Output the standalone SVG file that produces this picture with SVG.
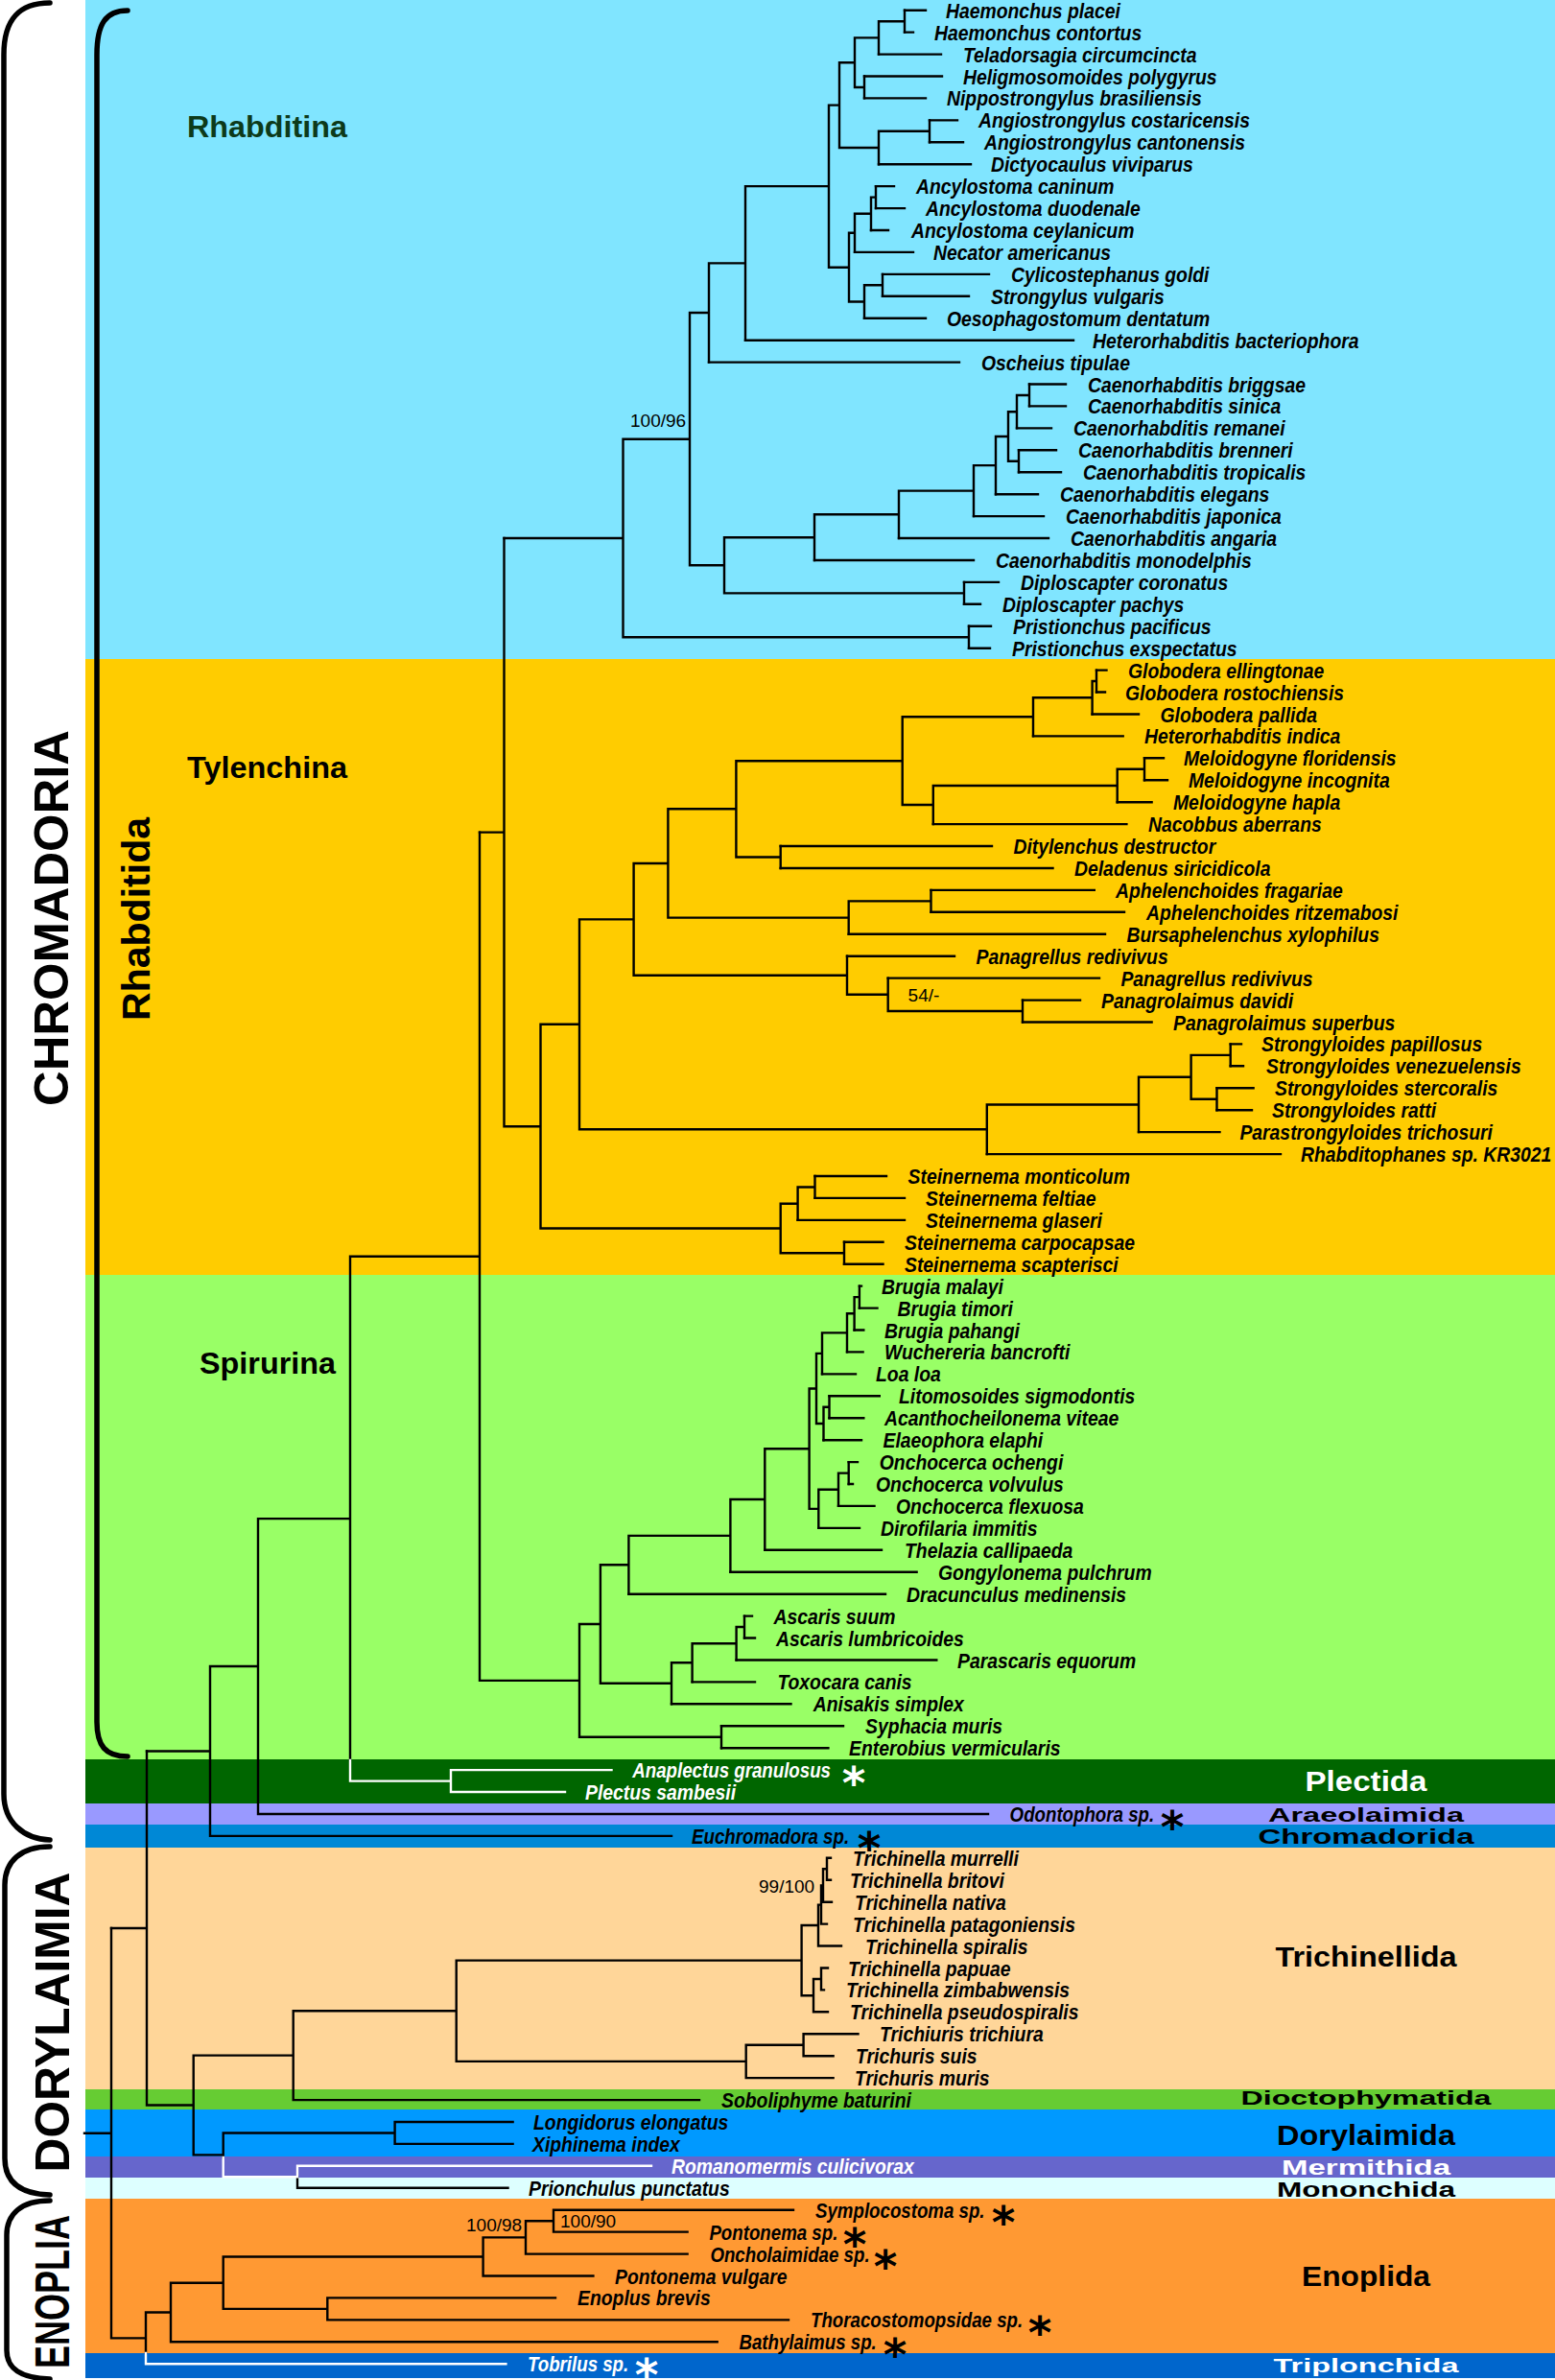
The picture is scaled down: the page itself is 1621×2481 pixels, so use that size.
<svg xmlns="http://www.w3.org/2000/svg" width="1621" height="2481" viewBox="0 0 1621 2481">
<style>
.sp{font-family:"Liberation Sans",Arial,sans-serif;font-size:22px;font-weight:bold;font-style:italic;fill:#000}
.w{fill:#fff}
.ast{font-family:"DejaVu Sans",sans-serif;font-size:47px;font-weight:bold;fill:#000;text-anchor:middle}
.br{fill:none;stroke:#000;stroke-width:2.4;stroke-linecap:square}
.brw{fill:none;stroke:#fff;stroke-width:2.4;stroke-linecap:square}
.sup{font-family:"Liberation Sans",Arial,sans-serif;font-size:19px;fill:#000}
.ord{font-family:"Liberation Sans",Arial,sans-serif;font-weight:bold;text-anchor:middle;fill:#000}
.sub{font-family:"Liberation Sans",Arial,sans-serif;font-weight:bold;font-size:32px;fill:#000}
.cls{font-family:"Liberation Sans",Arial,sans-serif;font-weight:bold;font-size:50px;fill:#000;text-anchor:middle}
.brace{fill:none;stroke:#000;stroke-width:5.5;stroke-linecap:round}
</style>
<rect x="0" y="0" width="1621" height="2481" fill="#fff"/>
<g id="bands">
<rect x="89" y="0" width="1532" height="687" fill="#80e5ff"/>
<rect x="89" y="687" width="1532" height="642" fill="#ffcc00"/>
<rect x="89" y="1329" width="1532" height="505" fill="#99ff66"/>
<rect x="89" y="1834" width="1532" height="46" fill="#006600"/>
<rect x="89" y="1880" width="1532" height="22" fill="#9999ff"/>
<rect x="89" y="1902" width="1532" height="24" fill="#0088d6"/>
<rect x="89" y="1926" width="1532" height="252" fill="#ffd699"/>
<rect x="89" y="2178" width="1532" height="21" fill="#66cc33"/>
<rect x="89" y="2199" width="1532" height="49" fill="#0099ff"/>
<rect x="89" y="2248" width="1532" height="22" fill="#6666cc"/>
<rect x="89" y="2270" width="1532" height="22" fill="#ddffff"/>
<rect x="89" y="2292" width="1532" height="161" fill="#ff9933"/>
<rect x="89" y="2453" width="1532" height="26" fill="#0066cc"/>
</g>
<g id="brackets">
<path class="brace" d="M52,3 C20,3 4,20 4,57 L4,1870 C4,1900 25,1917 52,1918"/>
<path class="brace" d="M52,1925 C22,1925 5,1940 5,1965 L5,2250 C5,2275 22,2287 52,2288"/>
<path class="brace" d="M52,2294 C22,2294 7,2308 7,2330 L7,2450 C7,2470 22,2479 52,2480"/>
<path class="brace" stroke-width="5" d="M133,11 C110,11 101,25 101,57 L101,1795 C101,1820 110,1831 133,1831"/>
<text class="cls" transform="translate(71,957) rotate(-90)" textLength="392" lengthAdjust="spacingAndGlyphs">CHROMADORIA</text>
<text class="cls" transform="translate(72,2108) rotate(-90)" textLength="313" lengthAdjust="spacingAndGlyphs">DORYLAIMIA</text>
<text class="cls" transform="translate(72,2389) rotate(-90)" textLength="160" lengthAdjust="spacingAndGlyphs">ENOPLIA</text>
<text class="cls" style="font-size:41px" transform="translate(156,958) rotate(-90)" textLength="212" lengthAdjust="spacingAndGlyphs">Rhabditida</text>
</g>
<g id="suborders">
<text class="sub" x="195" y="143" style="fill:#0d3a1a" textLength="167" lengthAdjust="spacingAndGlyphs">Rhabditina</text>
<text class="sub" x="195" y="811" textLength="167" lengthAdjust="spacingAndGlyphs">Tylenchina</text>
<text class="sub" x="208" y="1432" textLength="142" lengthAdjust="spacingAndGlyphs">Spirurina</text>
</g>
<g id="orders">
<text class="ord" x="1424" y="1867" font-size="30" textLength="127" lengthAdjust="spacingAndGlyphs" style="fill:#fff">Plectida</text>
<text class="ord" x="1424" y="1899" font-size="21" textLength="204" lengthAdjust="spacingAndGlyphs">Araeolaimida</text>
<text class="ord" x="1424" y="1921.5" font-size="22" textLength="225" lengthAdjust="spacingAndGlyphs">Chromadorida</text>
<text class="ord" x="1424" y="2050" font-size="29" textLength="189" lengthAdjust="spacingAndGlyphs">Trichinellida</text>
<text class="ord" x="1424" y="2194" font-size="20" textLength="261" lengthAdjust="spacingAndGlyphs">Dioctophymatida</text>
<text class="ord" x="1424" y="2236" font-size="29" textLength="186" lengthAdjust="spacingAndGlyphs">Dorylaimida</text>
<text class="ord" x="1424" y="2267" font-size="22" textLength="176" lengthAdjust="spacingAndGlyphs" style="fill:#fff">Mermithida</text>
<text class="ord" x="1424" y="2290" font-size="22" textLength="186" lengthAdjust="spacingAndGlyphs">Mononchida</text>
<text class="ord" x="1424" y="2383" font-size="30" textLength="134" lengthAdjust="spacingAndGlyphs">Enoplida</text>
<text class="ord" x="1424" y="2473" font-size="21" textLength="193" lengthAdjust="spacingAndGlyphs" style="fill:#fff">Triplonchida</text>
</g>
<g id="branches">
<path class="br" d="M943,10.7H965M943,33.6H952M916,56.6H981M901,79.5H982M901,102.4H965M969,125.4H998M969,148.3H1004M916,171.2H1012M913,194.1H932M913,217.1H943M908,240H926M891,262.9H952M920,285.9H1031M920,308.8H1010M901,331.7H965M777,354.7H1119M739,377.6H1000M1073,400.5H1111M1073,423.4H1111M1060,446.4H1096M1062,469.3H1101M1062,492.2H1106M1038,515.2H1082M1015,538.1H1088M937,561H1093M849,584H1015M1005,606.9H1041M1005,629.8H1022M1010,652.7H1033M1010,675.7H1032"/>
<path class="br" d="M943,10.7V33.6M916,22.2H943M916,22.2V56.6M891,39.4H916M901,79.5V102.4M891,91H901M891,39.4V91M875,65.2H891M969,125.4V148.3M916,136.8H969M916,136.8V171.2M875,154H916M875,65.2V154M864,109.6H875M913,194.1V217.1M908,205.6H913M908,205.6V240M891,222.8H908M891,222.8V262.9M885,242.8H891M920,285.9V308.8M901,297.3H920M901,297.3V331.7M885,314.5H901M885,242.8V314.5M864,278.7H885M864,109.6V278.7M777,194.1H864M777,194.1V354.7M739,274.4H777M739,274.4V377.6M719,326H739M1073,400.5V423.4M1060,412H1073M1060,412V446.4M1051,429.2H1060M1062,469.3V492.2M1051,480.8H1062M1051,429.2V480.8M1038,455H1051M1038,455V515.2M1015,485.1H1038M1015,485.1V538.1M937,511.6H1015M937,511.6V561M849,536.3H937M849,536.3V584M755,560.2H849M1005,606.9V629.8M755,618.4H1005M755,560.2V618.4M719,589.3H755M719,326V589.3M649.5,457.7H719M1010,652.7V675.7M649.5,664.2H1010M649.5,457.7V664.2M525.5,561H649.5"/>
<path class="br" d="M1143,698.6H1153.5M1143,721.5H1152M1138.6,744.5H1187M1077,767.4H1170.7M1193,790.3H1213M1193,813.3H1217M1164.7,836.2H1200.6M972.8,859.1H1174.4M813.7,882H1034M813.7,905H1097.5M970.5,927.9H1140.8M970.5,950.8H1172M884.7,973.8H1152M883,996.7H995M925.7,1019.6H1146M1066,1042.6H1126M1066,1065.5H1200.6M1282.7,1088.4H1294M1282.7,1111.3H1296M1268.5,1134.3H1306.6M1268.5,1157.2H1305M1187,1180.1H1271.5M1028.8,1203.1H1335M849.5,1226H924M849.5,1248.9H943M831.6,1271.9H943M880,1294.8H920.5M880,1317.7H920.5"/>
<path class="br" d="M1143,698.6V721.5M1138.6,710H1143M1138.6,710V744.5M1077,727.3H1138.6M1077,727.3V767.4M940.7,747.3H1077M1193,790.3V813.3M1164.7,801.8H1193M1164.7,801.8V836.2M972.8,819H1164.7M972.8,819V859.1M940.7,839H972.8M940.7,747.3V839M767.4,793.2H940.7M813.7,882V905M767.4,893.5H813.7M767.4,793.2V893.5M696.4,843.3H767.4M970.5,927.9V950.8M884.7,939.4H970.5M884.7,939.4V973.8M696.4,956.6H884.7M696.4,843.3V956.6M660.6,900H696.4M1066,1042.6V1065.5M925.7,1054H1066M925.7,1019.6V1054M883,1036.8H925.7M883,996.7V1036.8M660.6,1016.7H883M660.6,900V1016.7M604,958.4H660.6M1282.7,1088.4V1111.3M1241.6,1099.9H1282.7M1268.5,1134.3V1157.2M1241.6,1145.8H1268.5M1241.6,1099.9V1145.8M1187,1122.8H1241.6M1187,1122.8V1180.1M1028.8,1151.5H1187M1028.8,1151.5V1203.1M604,1177.3H1028.8M604,958.4V1177.3M563.5,1067.8H604M849.5,1226V1248.9M831.6,1237.5H849.5M831.6,1237.5V1271.9M813.7,1254.7H831.6M880,1294.8V1317.7M813.7,1306.3H880M813.7,1254.7V1306.3M563.5,1280.5H813.7M563.5,1067.8V1280.5M525.5,1174.2H563.5M525.5,561V1174.2M500,867.6H525.5"/>
<path class="br" d="M895.9,1340.6H898M895.9,1363.6H914.5M890.6,1386.5H900.3M883,1409.4H899.6M857,1432.4H892M864.5,1455.3H916.8M864.5,1478.2H900.3M858.5,1501.2H898M884.7,1524.1H894M884.7,1547H889M874,1569.9H911.5M853.3,1592.9H896M797.3,1615.8H919M761.4,1638.7H955.6M655.4,1661.7H923M776,1684.6H784M776,1707.5H787M767.6,1730.5H976.3M721.6,1753.4H787M700,1776.3H824.5M752,1799.2H879M752,1822.2H863.4"/>
<path class="br" d="M895.9,1340.6V1363.6M890.6,1352.1H895.9M890.6,1352.1V1386.5M883,1369.3H890.6M883,1369.3V1409.4M857,1389.4H883M857,1389.4V1432.4M851,1410.9H857M864.5,1455.3V1478.2M858.5,1466.8H864.5M858.5,1466.8V1501.2M851,1484H858.5M851,1410.9V1484M843.6,1447.5H851M884.7,1524.1V1547M874,1535.6H884.7M874,1535.6V1569.9M853.3,1552.8H874M853.3,1552.8V1592.9M843.6,1572.9H853.3M843.6,1447.5V1572.9M797.3,1510.2H843.6M797.3,1510.2V1615.8M761.4,1563H797.3M761.4,1563V1638.7M655.4,1600.9H761.4M655.4,1600.9V1661.7M625.9,1631.3H655.4M776,1684.6V1707.5M767.6,1696H776M767.6,1696V1730.5M721.6,1713.3H767.6M721.6,1713.3V1753.4M700,1733.3H721.6M700,1733.3V1776.3M625.9,1754.8H700M625.9,1631.3V1754.8M604,1693H625.9M752,1799.2V1822.2M604,1810.7H752M604,1693V1810.7M500,1751.9H604M500,867.6V1751.9M365,1309.7H500M365,1309.7V1835M269,1583.1H365M269,1583.1V1891M219,1737H269M269,1891H1030M219,1737V1913.9M153,1825.5H219M219,1913.9H700"/>
<path class="brw" d="M365,1835V1856.6H470M470,1845.1V1868M470,1845.1H637.5M470,1868H589"/>
<path class="br" d="M153,1825.5V2194.5M116,2010H153M201.7,2142.6V2246.4M153,2194.5H201.7M305.7,2096.2V2189.1M201.7,2142.6H305.7M305.7,2189.1H729M475.7,2043.6V2148.9M305.7,2096.2H475.7M835.6,2007V2080.2M475.7,2043.6H835.6M853,1985.6V2028.5M835.6,2007H853M853,2028.5H877M856,1965.5V2005.6M853,1985.6H856M856,2005.6H862M858,1948.3V1982.7M856,1965.5H858M858,1982.7H867M862,1936.8V1959.8M858,1948.3H862M862,1936.8H866M862,1959.8H866M848,2063V2097.3M835.6,2080.2H848M848,2097.3H863M856,2051.5V2074.4M848,2063H856M856,2051.5H863M856,2074.4H859M777.7,2131.7V2166.1M475.7,2148.9H777.7M837.6,2120.3V2143.2M777.7,2131.7H837.6M837.6,2120.3H894.5M837.6,2143.2H868.6M777.7,2166.1H868.6M232.7,2223.5V2249M201.7,2246.4H232.7M411.6,2212V2234.9M232.7,2223.5H411.6M411.6,2212H534.6M411.6,2234.9H534.6M310,2269.3V2280.8H529.5"/>
<path class="brw" d="M232.7,2249V2269.3H310M310,2257.8V2269.3M310,2257.8H679"/>
<path class="br" d="M116,2010V2437.4M88,2223.7H116M116,2437.4H152M152,2410.5V2453M178,2379.7V2441.3M152,2410.5H178M178,2441.3H747.7M232.7,2352.5V2406.9M178,2379.7H232.7M341.3,2395.4V2418.4M232.7,2406.9H341.3M341.3,2395.4H579M341.3,2418.4H822M503.6,2332.4V2372.5M232.7,2352.5H503.6M503.6,2372.5H618.4M548,2315.2V2349.6M503.6,2332.4H548M548,2349.6H716.6M577,2303.7V2326.6M548,2315.2H577M577,2303.7H827M577,2326.6H716.6"/>
<path class="brw" d="M152,2453V2464.2H527.4"/>
</g>
<g id="support">
<text class="sup" x="657" y="445">100/96</text>
<text class="sup" x="946.6" y="1044">54/-</text>
<text class="sup" x="791" y="1973">99/100</text>
<text class="sup" x="486" y="2326">100/98</text>
<text class="sup" x="584" y="2322">100/90</text>
</g>
<g id="leaves">
<g id="leaf-0"><text class="sp" transform="translate(986,18.7) scale(0.88,1)">Haemonchus placei</text></g>
<g id="leaf-1"><text class="sp" transform="translate(974,41.6) scale(0.88,1)">Haemonchus contortus</text></g>
<g id="leaf-2"><text class="sp" transform="translate(1004,64.6) scale(0.88,1)">Teladorsagia circumcincta</text></g>
<g id="leaf-3"><text class="sp" transform="translate(1004,87.5) scale(0.88,1)">Heligmosomoides polygyrus</text></g>
<g id="leaf-4"><text class="sp" transform="translate(987,110.4) scale(0.88,1)">Nippostrongylus brasiliensis</text></g>
<g id="leaf-5"><text class="sp" transform="translate(1020,133.4) scale(0.88,1)">Angiostrongylus costaricensis</text></g>
<g id="leaf-6"><text class="sp" transform="translate(1026,156.3) scale(0.88,1)">Angiostrongylus cantonensis</text></g>
<g id="leaf-7"><text class="sp" transform="translate(1033,179.2) scale(0.88,1)">Dictyocaulus viviparus</text></g>
<g id="leaf-8"><text class="sp" transform="translate(955,202.1) scale(0.88,1)">Ancylostoma caninum</text></g>
<g id="leaf-9"><text class="sp" transform="translate(965,225.1) scale(0.88,1)">Ancylostoma duodenale</text></g>
<g id="leaf-10"><text class="sp" transform="translate(950,248) scale(0.88,1)">Ancylostoma ceylanicum</text></g>
<g id="leaf-11"><text class="sp" transform="translate(973,270.9) scale(0.88,1)">Necator americanus</text></g>
<g id="leaf-12"><text class="sp" transform="translate(1054,293.9) scale(0.88,1)">Cylicostephanus goldi</text></g>
<g id="leaf-13"><text class="sp" transform="translate(1033,316.8) scale(0.88,1)">Strongylus vulgaris</text></g>
<g id="leaf-14"><text class="sp" transform="translate(987,339.7) scale(0.88,1)">Oesophagostomum dentatum</text></g>
<g id="leaf-15"><text class="sp" transform="translate(1139,362.7) scale(0.88,1)">Heterorhabditis bacteriophora</text></g>
<g id="leaf-16"><text class="sp" transform="translate(1023,385.6) scale(0.88,1)">Oscheius tipulae</text></g>
<g id="leaf-17"><text class="sp" transform="translate(1134,408.5) scale(0.88,1)">Caenorhabditis briggsae</text></g>
<g id="leaf-18"><text class="sp" transform="translate(1134,431.4) scale(0.88,1)">Caenorhabditis sinica</text></g>
<g id="leaf-19"><text class="sp" transform="translate(1119,454.4) scale(0.88,1)">Caenorhabditis remanei</text></g>
<g id="leaf-20"><text class="sp" transform="translate(1124,477.3) scale(0.88,1)">Caenorhabditis brenneri</text></g>
<g id="leaf-21"><text class="sp" transform="translate(1129,500.2) scale(0.88,1)">Caenorhabditis tropicalis</text></g>
<g id="leaf-22"><text class="sp" transform="translate(1105,523.2) scale(0.88,1)">Caenorhabditis elegans</text></g>
<g id="leaf-23"><text class="sp" transform="translate(1111,546.1) scale(0.88,1)">Caenorhabditis japonica</text></g>
<g id="leaf-24"><text class="sp" transform="translate(1116,569) scale(0.88,1)">Caenorhabditis angaria</text></g>
<g id="leaf-25"><text class="sp" transform="translate(1038,592) scale(0.88,1)">Caenorhabditis monodelphis</text></g>
<g id="leaf-26"><text class="sp" transform="translate(1064,614.9) scale(0.88,1)">Diploscapter coronatus</text></g>
<g id="leaf-27"><text class="sp" transform="translate(1045,637.8) scale(0.88,1)">Diploscapter pachys</text></g>
<g id="leaf-28"><text class="sp" transform="translate(1056,660.7) scale(0.88,1)">Pristionchus pacificus</text></g>
<g id="leaf-29"><text class="sp" transform="translate(1055,683.7) scale(0.88,1)">Pristionchus exspectatus</text></g>
<g id="leaf-30"><text class="sp" transform="translate(1176,706.6) scale(0.88,1)">Globodera ellingtonae</text></g>
<g id="leaf-31"><text class="sp" transform="translate(1173,729.5) scale(0.88,1)">Globodera rostochiensis</text></g>
<g id="leaf-32"><text class="sp" transform="translate(1209.5,752.5) scale(0.88,1)">Globodera pallida</text></g>
<g id="leaf-33"><text class="sp" transform="translate(1193,775.4) scale(0.88,1)">Heterorhabditis indica</text></g>
<g id="leaf-34"><text class="sp" transform="translate(1234,798.3) scale(0.88,1)">Meloidogyne floridensis</text></g>
<g id="leaf-35"><text class="sp" transform="translate(1239,821.3) scale(0.88,1)">Meloidogyne incognita</text></g>
<g id="leaf-36"><text class="sp" transform="translate(1223,844.2) scale(0.88,1)">Meloidogyne hapla</text></g>
<g id="leaf-37"><text class="sp" transform="translate(1197,867.1) scale(0.88,1)">Nacobbus aberrans</text></g>
<g id="leaf-38"><text class="sp" transform="translate(1056.4,890) scale(0.88,1)">Ditylenchus destructor</text></g>
<g id="leaf-39"><text class="sp" transform="translate(1120,913) scale(0.88,1)">Deladenus siricidicola</text></g>
<g id="leaf-40"><text class="sp" transform="translate(1163,935.9) scale(0.88,1)">Aphelenchoides fragariae</text></g>
<g id="leaf-41"><text class="sp" transform="translate(1195,958.8) scale(0.88,1)">Aphelenchoides ritzemabosi</text></g>
<g id="leaf-42"><text class="sp" transform="translate(1174.4,981.8) scale(0.88,1)">Bursaphelenchus xylophilus</text></g>
<g id="leaf-43"><text class="sp" transform="translate(1017.6,1004.7) scale(0.88,1)">Panagrellus redivivus</text></g>
<g id="leaf-44"><text class="sp" transform="translate(1168.4,1027.6) scale(0.88,1)">Panagrellus redivivus</text></g>
<g id="leaf-45"><text class="sp" transform="translate(1148,1050.6) scale(0.88,1)">Panagrolaimus davidi</text></g>
<g id="leaf-46"><text class="sp" transform="translate(1223,1073.5) scale(0.88,1)">Panagrolaimus superbus</text></g>
<g id="leaf-47"><text class="sp" transform="translate(1315,1096.4) scale(0.88,1)">Strongyloides papillosus</text></g>
<g id="leaf-48"><text class="sp" transform="translate(1320,1119.3) scale(0.88,1)">Strongyloides venezuelensis</text></g>
<g id="leaf-49"><text class="sp" transform="translate(1329,1142.3) scale(0.88,1)">Strongyloides stercoralis</text></g>
<g id="leaf-50"><text class="sp" transform="translate(1326,1165.2) scale(0.88,1)">Strongyloides ratti</text></g>
<g id="leaf-51"><text class="sp" transform="translate(1292.4,1188.1) scale(0.88,1)">Parastrongyloides trichosuri</text></g>
<g id="leaf-52"><text class="sp" transform="translate(1356,1211.1) scale(0.88,1)">Rhabditophanes sp. KR3021</text></g>
<g id="leaf-53"><text class="sp" transform="translate(946.6,1234) scale(0.88,1)">Steinernema monticolum</text></g>
<g id="leaf-54"><text class="sp" transform="translate(965,1256.9) scale(0.88,1)">Steinernema feltiae</text></g>
<g id="leaf-55"><text class="sp" transform="translate(965,1279.9) scale(0.88,1)">Steinernema glaseri</text></g>
<g id="leaf-56"><text class="sp" transform="translate(943,1302.8) scale(0.88,1)">Steinernema carpocapsae</text></g>
<g id="leaf-57"><text class="sp" transform="translate(943,1325.7) scale(0.88,1)">Steinernema scapterisci</text></g>
<g id="leaf-58"><text class="sp" transform="translate(919,1348.6) scale(0.88,1)">Brugia malayi</text></g>
<g id="leaf-59"><text class="sp" transform="translate(935.4,1371.6) scale(0.88,1)">Brugia timori</text></g>
<g id="leaf-60"><text class="sp" transform="translate(922,1394.5) scale(0.88,1)">Brugia pahangi</text></g>
<g id="leaf-61"><text class="sp" transform="translate(922,1417.4) scale(0.88,1)">Wuchereria bancrofti</text></g>
<g id="leaf-62"><text class="sp" transform="translate(913,1440.4) scale(0.88,1)">Loa loa</text></g>
<g id="leaf-63"><text class="sp" transform="translate(937,1463.3) scale(0.88,1)">Litomosoides sigmodontis</text></g>
<g id="leaf-64"><text class="sp" transform="translate(922,1486.2) scale(0.88,1)">Acanthocheilonema viteae</text></g>
<g id="leaf-65"><text class="sp" transform="translate(920.5,1509.2) scale(0.88,1)">Elaeophora elaphi</text></g>
<g id="leaf-66"><text class="sp" transform="translate(916.8,1532.1) scale(0.88,1)">Onchocerca ochengi</text></g>
<g id="leaf-67"><text class="sp" transform="translate(913,1555) scale(0.88,1)">Onchocerca volvulus</text></g>
<g id="leaf-68"><text class="sp" transform="translate(934,1577.9) scale(0.88,1)">Onchocerca flexuosa</text></g>
<g id="leaf-69"><text class="sp" transform="translate(918,1600.9) scale(0.88,1)">Dirofilaria immitis</text></g>
<g id="leaf-70"><text class="sp" transform="translate(943,1623.8) scale(0.88,1)">Thelazia callipaeda</text></g>
<g id="leaf-71"><text class="sp" transform="translate(978,1646.7) scale(0.88,1)">Gongylonema pulchrum</text></g>
<g id="leaf-72"><text class="sp" transform="translate(945,1669.7) scale(0.88,1)">Dracunculus medinensis</text></g>
<g id="leaf-73"><text class="sp" transform="translate(806.5,1692.6) scale(0.88,1)">Ascaris suum</text></g>
<g id="leaf-74"><text class="sp" transform="translate(809,1715.5) scale(0.88,1)">Ascaris lumbricoides</text></g>
<g id="leaf-75"><text class="sp" transform="translate(998,1738.5) scale(0.88,1)">Parascaris equorum</text></g>
<g id="leaf-76"><text class="sp" transform="translate(810.4,1761.4) scale(0.88,1)">Toxocara canis</text></g>
<g id="leaf-77"><text class="sp" transform="translate(847.8,1784.3) scale(0.88,1)">Anisakis simplex</text></g>
<g id="leaf-78"><text class="sp" transform="translate(902,1807.2) scale(0.88,1)">Syphacia muris</text></g>
<g id="leaf-79"><text class="sp" transform="translate(885,1830.2) scale(0.88,1)">Enterobius vermicularis</text></g>
<g id="leaf-80"><text class="sp w" transform="translate(659.3,1853.1) scale(0.85,1)">Anaplectus granulosus</text><text class="ast" x="890" y="1875" style="fill:#fff">*</text></g>
<g id="leaf-81"><text class="sp w" transform="translate(610,1876) scale(0.88,1)">Plectus sambesii</text></g>
<g id="leaf-82"><text class="sp" transform="translate(1052.6,1899) scale(0.85,1)">Odontophora sp.</text><text class="ast" x="1222" y="1920.5">*</text></g>
<g id="leaf-83"><text class="sp" transform="translate(721,1921.9) scale(0.85,1)">Euchromadora sp.</text><text class="ast" x="906" y="1943.4">*</text></g>
<g id="leaf-84"><text class="sp" transform="translate(889,1944.8) scale(0.88,1)">Trichinella murrelli</text></g>
<g id="leaf-85"><text class="sp" transform="translate(886,1967.8) scale(0.88,1)">Trichinella britovi</text></g>
<g id="leaf-86"><text class="sp" transform="translate(891,1990.7) scale(0.88,1)">Trichinella nativa</text></g>
<g id="leaf-87"><text class="sp" transform="translate(889,2013.6) scale(0.88,1)">Trichinella patagoniensis</text></g>
<g id="leaf-88"><text class="sp" transform="translate(902,2036.5) scale(0.88,1)">Trichinella spiralis</text></g>
<g id="leaf-89"><text class="sp" transform="translate(884,2059.5) scale(0.88,1)">Trichinella papuae</text></g>
<g id="leaf-90"><text class="sp" transform="translate(882,2082.4) scale(0.88,1)">Trichinella zimbabwensis</text></g>
<g id="leaf-91"><text class="sp" transform="translate(886,2105.3) scale(0.88,1)">Trichinella pseudospiralis</text></g>
<g id="leaf-92"><text class="sp" transform="translate(917,2128.3) scale(0.88,1)">Trichiuris trichiura</text></g>
<g id="leaf-93"><text class="sp" transform="translate(892,2151.2) scale(0.88,1)">Trichuris suis</text></g>
<g id="leaf-94"><text class="sp" transform="translate(891,2174.1) scale(0.88,1)">Trichuris muris</text></g>
<g id="leaf-95"><text class="sp" transform="translate(752,2197.1) scale(0.88,1)">Soboliphyme baturini</text></g>
<g id="leaf-96"><text class="sp" transform="translate(556,2220) scale(0.88,1)">Longidorus elongatus</text></g>
<g id="leaf-97"><text class="sp" transform="translate(555,2242.9) scale(0.88,1)">Xiphinema index</text></g>
<g id="leaf-98"><text class="sp w" transform="translate(700,2265.8) scale(0.88,1)">Romanomermis culicivorax</text></g>
<g id="leaf-99"><text class="sp" transform="translate(551,2288.8) scale(0.88,1)">Prionchulus punctatus</text></g>
<g id="leaf-100"><text class="sp" transform="translate(850,2311.7) scale(0.85,1)">Symplocostoma sp.</text><text class="ast" x="1046" y="2333.2">*</text></g>
<g id="leaf-101"><text class="sp" transform="translate(739.4,2334.6) scale(0.85,1)">Pontonema sp.</text><text class="ast" x="891" y="2356.1">*</text></g>
<g id="leaf-102"><text class="sp" transform="translate(740.4,2357.6) scale(0.85,1)">Oncholaimidae sp.</text><text class="ast" x="923" y="2379.1">*</text></g>
<g id="leaf-103"><text class="sp" transform="translate(641,2380.5) scale(0.88,1)">Pontonema vulgare</text></g>
<g id="leaf-104"><text class="sp" transform="translate(602,2403.4) scale(0.88,1)">Enoplus brevis</text></g>
<g id="leaf-105"><text class="sp" transform="translate(845,2426.4) scale(0.85,1)">Thoracostomopsidae sp.</text><text class="ast" x="1084" y="2447.9">*</text></g>
<g id="leaf-106"><text class="sp" transform="translate(770.4,2449.3) scale(0.85,1)">Bathylaimus sp.</text><text class="ast" x="933" y="2470.8">*</text></g>
<g id="leaf-107"><text class="sp w" transform="translate(550,2472.2) scale(0.85,1)">Tobrilus sp.</text><text class="ast" x="674" y="2492" style="fill:#fff">*</text></g>
</g>
</svg>
